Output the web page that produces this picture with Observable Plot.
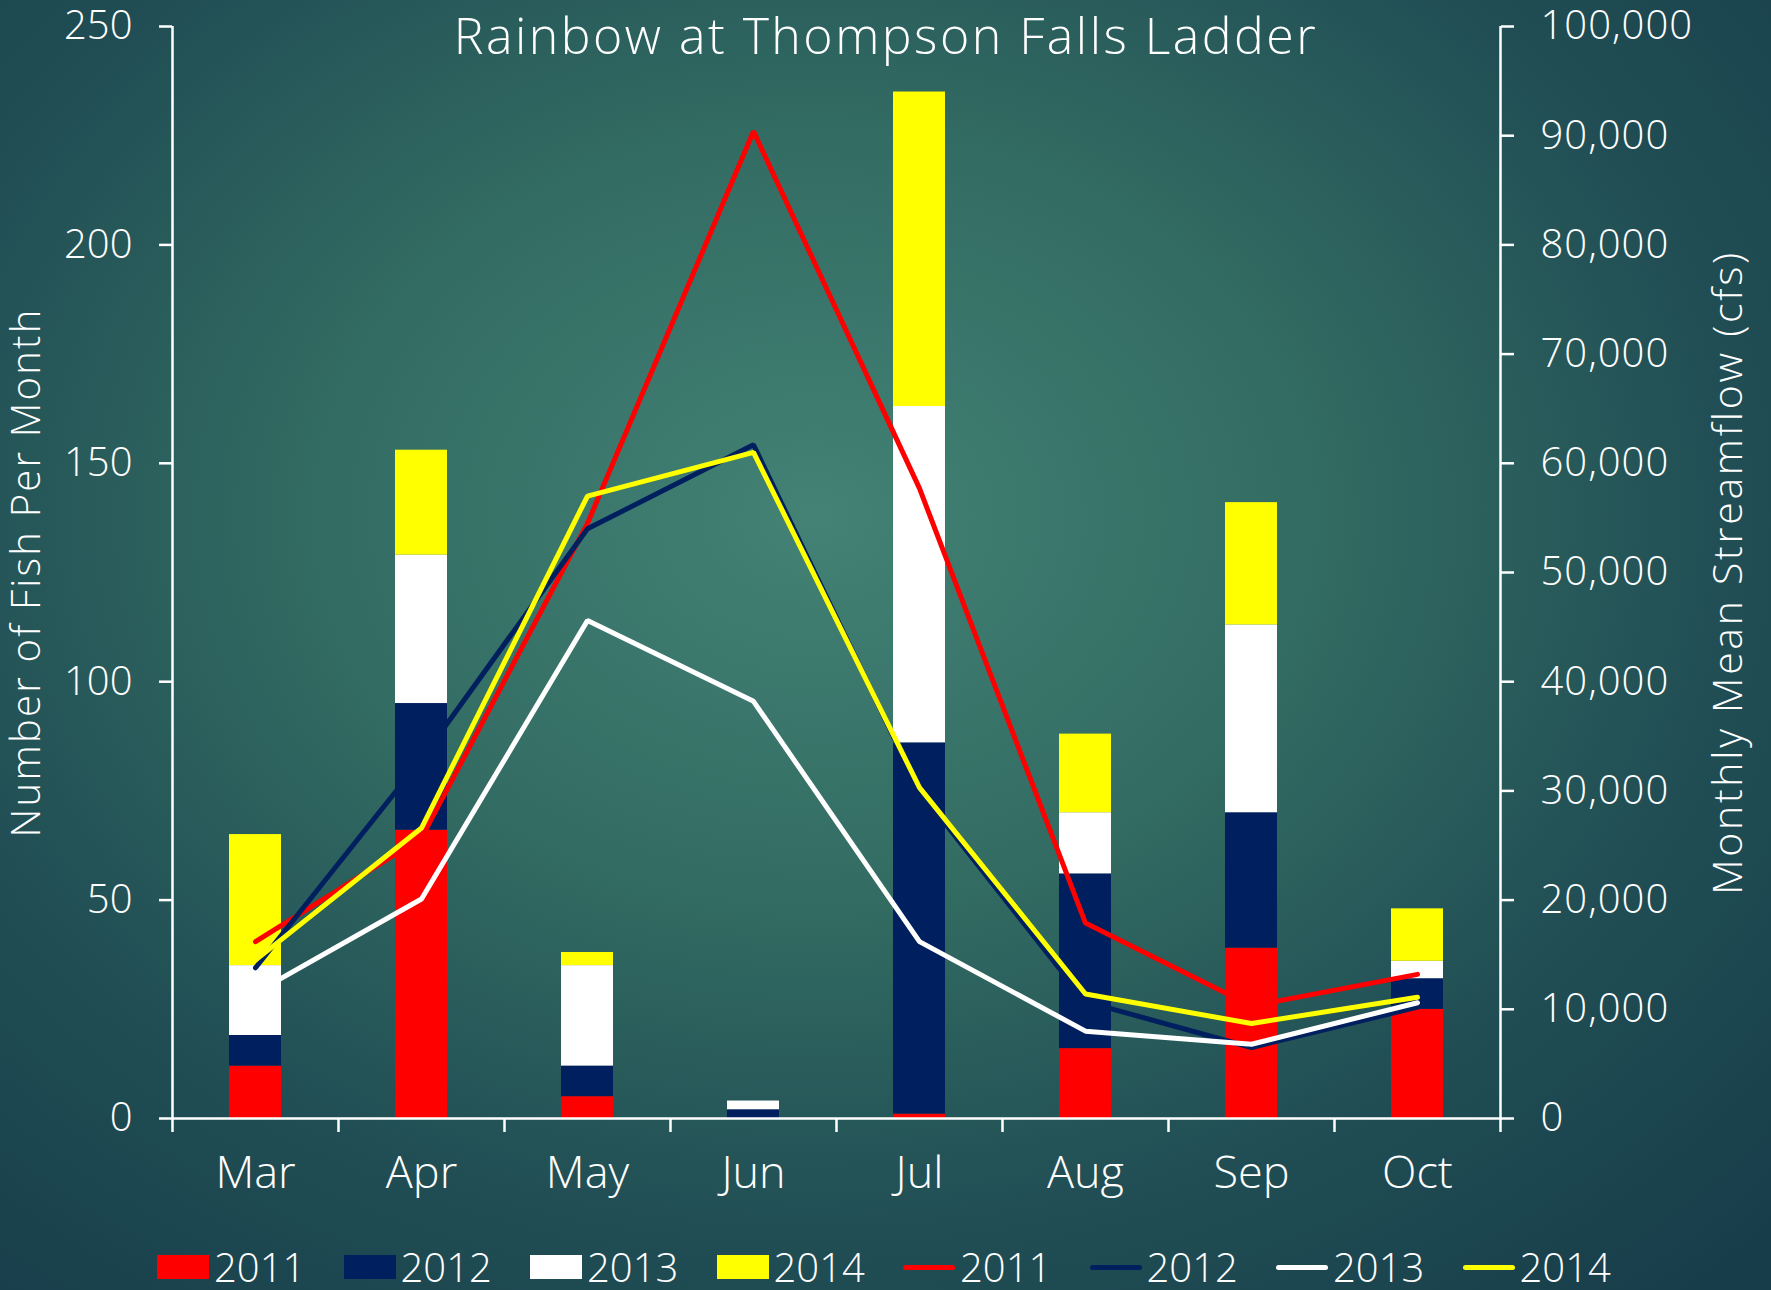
<!DOCTYPE html>
<html>
<head>
<meta charset="utf-8">
<script src="https://cdn.jsdelivr.net/npm/d3@7"></script>
<script src="https://cdn.jsdelivr.net/npm/@observablehq/plot@0.6"></script>
<style>
  html, body { margin: 0; padding: 0; width: 1771px; height: 1290px; overflow: hidden; }
  body {
    background: radial-gradient(ellipse 75% 80% at 46% 40%, #438275 0%, #326b62 38%, #214f55 68%, #173d4a 100%);
    font-family: "Open Sans", "Lato", sans-serif; font-weight: 300; color: #fff;
  }
  #chart svg { display: block; }
  #legend { position: relative; height: 60px; }
  .item { position: absolute; top: 14px; height: 46px; display: flex; align-items: center; }
  .sw { width: 52px; height: 24px; margin-right: 5px; }
  .ln { width: 52px; height: 5px; border-radius: 3px; margin-right: 5px; }
  .lbl { font-size: 40px; line-height: 46px; color: #fff; }
</style>
</head>
<body>
<div id="chart"></div>
<div id="legend"></div>
<script>
// ---- data ----
const months = ["Mar", "Apr", "May", "Jun", "Jul", "Aug", "Sep", "Oct"];
const years = ["2011", "2012", "2013", "2014"];
const colors = ["#ff0000", "#001f5f", "#ffffff", "#ffff00"];

// fish counted per month (stacked bars)
const fish2011 = [12, 66, 5, 0, 1, 16, 39, 25];
const fish2012 = [7, 29, 7, 2, 85, 40, 31, 7];
const fish2013 = [16, 34, 23, 2, 77, 14, 43, 4];
const fish2014 = [30, 24, 3, 0, 72, 18, 28, 12];

// monthly mean streamflow (cfs)
const flow2011 = [16200, 25700, 54500, 90400, 57700, 17900, 10300, 13200];
const flow2012 = [13800, 32900, 54000, 61700, 30000, 10700, 6500, 10200];
const flow2013 = [11500, 20100, 45600, 38200, 16200, 8000, 6800, 10600];
const flow2014 = [14500, 26600, 57000, 61000, 30300, 11400, 8700, 11100];

const fishTicks = [0, 50, 100, 150, 200, 250];
const flowTicks = [0, 10000, 20000, 30000, 40000, 50000, 60000, 70000, 80000, 90000, 100000];

const title = "Rainbow at Thompson Falls Ladder";
const yLabelLeft = "Number of Fish Per Month";
const yLabelRight = "Monthly Mean Streamflow (cfs)";

// ---- tables ----
const fishSeries = [fish2011, fish2012, fish2013, fish2014];
const flowSeries = [flow2011, flow2012, flow2013, flow2014];
const fishRows = [];
years.forEach((yr, i) => months.forEach((m, j) => fishRows.push({month: m, year: yr, value: fishSeries[i][j]})));
// right axis 0..100,000 maps onto left axis 0..250
const ratio = 100000 / 250;
const flowRows = years.map((yr, i) => months.map((m, j) => ({month: m, year: yr, flow: flowSeries[i][j]})));

const W = 1771, H = 1230;
const mL = 172, mR = 271, mT = 26, mB = 112;
const step = (W - mL - mR) / months.length;
const axisColor = "#ffffff";
const fmtFlow = d => d3.format(",")(Math.round(d * ratio));

const marks = [
  Plot.barY(fishRows, {x: "month", y: "value", fill: "year", insetLeft: 57, insetRight: 57}),
  // axis lines
  Plot.ruleY([0], {stroke: axisColor, strokeWidth: 2.5}),
  Plot.ruleX([months[0]], {y1: 0, y2: 250, dx: -step / 2, stroke: axisColor, strokeWidth: 2.5}),
  Plot.ruleX([months[months.length - 1]], {y1: 0, y2: 250, dx: step / 2, stroke: axisColor, strokeWidth: 2.5}),
  // x axis: labels + boundary ticks
  Plot.axisX({tickSize: 0, tickPadding: 38, fontSize: 45, label: null}),
  Plot.axisX({tickSize: 14, tickFormat: () => "", dx: -step / 2, strokeWidth: 2.5, label: null}),
  Plot.axisX({ticks: [months[months.length - 1]], tickSize: 14, tickFormat: () => "", dx: step / 2, strokeWidth: 2.5, label: null}),
  // left axis
  Plot.axisY({anchor: "left", ticks: fishTicks, tickSize: 13, tickPadding: 27, fontSize: 40, strokeWidth: 2.5, label: null}),
  // right axis (streamflow)
  Plot.axisY({anchor: "right", ticks: flowTicks.map(v => v / ratio), tickFormat: fmtFlow,
              tickSize: 13, tickPadding: 27, fontSize: 40, strokeWidth: 2.5, label: null}),
  // streamflow lines
  ...flowRows.map((rows, i) => Plot.line(rows, {x: "month", y: d => d.flow / ratio, stroke: colors[i], strokeWidth: 5,
              strokeLinecap: "round", strokeLinejoin: "miter"})),
  // titles
  Plot.text([title], {frameAnchor: "top", textAnchor: "middle", dx: (W / 2) - (mL + (W - mL - mR) / 2), dy: 11,
              fontSize: 50, lineAnchor: "middle", fill: "#fff"}),
  Plot.text([yLabelLeft], {frameAnchor: "left", textAnchor: "middle", dx: -145, rotate: -90, fontSize: 40,
              lineAnchor: "middle", fill: "#fff"}),
  Plot.text([yLabelRight], {frameAnchor: "right", textAnchor: "middle", dx: 228, rotate: -90, fontSize: 41,
              lineAnchor: "middle", fill: "#fff"})
];

const chart = Plot.plot({
  width: W, height: H,
  marginLeft: mL, marginRight: mR, marginTop: mT, marginBottom: mB,
  x: {domain: months, padding: 0},
  y: {domain: [0, 250]},
  color: {domain: years, range: colors},
  style: {background: "transparent", color: "#ffffff", fontFamily: "'Open Sans', Lato, sans-serif", fontWeight: 300, overflow: "visible"},
  marks
});
document.getElementById("chart").appendChild(chart);
const svg = d3.select(chart);
const spacing = new Map([[title, "2.5px"], [yLabelLeft, "2.2px"], [yLabelRight, "2.7px"]]);
const flowLabels = new Set(flowTicks.map(v => d3.format(",")(v)).filter(s => s !== "0"));
svg.selectAll("text").each(function () {
  const t = this.textContent;
  if (spacing.has(t)) this.style.letterSpacing = spacing.get(t);
  else if (flowLabels.has(t)) this.style.letterSpacing = "1px";
});

// ---- legend (HTML, below the SVG) ----
const legend = document.getElementById("legend");
const startX = 157, pitch = 186.5;
years.forEach((yr, i) => {
  const it = document.createElement("div");
  it.className = "item"; it.style.left = (startX + i * pitch) + "px";
  it.innerHTML = `<div class="sw" style="background:${colors[i]}"></div><span class="lbl">${yr}</span>`;
  legend.appendChild(it);
});
years.forEach((yr, i) => {
  const it = document.createElement("div");
  it.className = "item"; it.style.left = (startX + (i + 4) * pitch) + "px";
  it.innerHTML = `<div class="ln" style="background:${colors[i]}"></div><span class="lbl">${yr}</span>`;
  legend.appendChild(it);
});
</script>
</body>
</html>
